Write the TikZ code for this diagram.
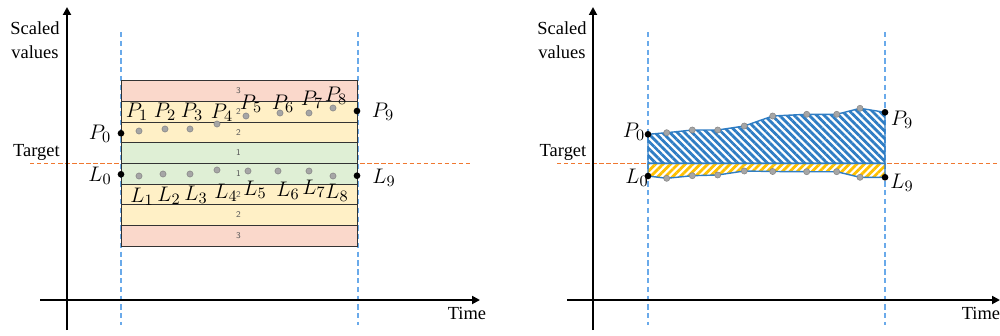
\documentclass[tikz,border=0pt]{standalone}
\usepackage{fontspec}
\setmainfont{Liberation Serif}
\usetikzlibrary{arrows.meta,patterns.meta}
\definecolor{bandred}{HTML}{FAD8CB}
\definecolor{bandyel}{HTML}{FFF0C6}
\definecolor{bandgrn}{HTML}{DFEFD5}
\definecolor{guide}{HTML}{6AAAEA}
\definecolor{targetorange}{HTML}{F07830}
\definecolor{area}{HTML}{2F7DC4}
\definecolor{gold}{HTML}{FFC000}
\definecolor{dotg}{HTML}{A6A6A6}
\tikzset{
  axis/.style={line width=1.1pt,-{Triangle[length=4.5pt,width=4.5pt]}},
  guideline/.style={draw=guide,line width=0.6pt,dash pattern=on 3pt off 2pt},
  tline/.style={draw=targetorange,line width=1pt,dash pattern=on 2.5pt off 1.5pt},
  band/.style={draw=black!80,line width=0.55pt},
  pdot/.style={circle,fill=dotg,draw=dotg!80!black,line width=0.3pt,inner sep=0pt,minimum size=3.5pt},
  edot/.style={circle,fill=black,inner sep=0pt,minimum size=3.8pt},
  lab/.style={font=\fontsize{12.5}{14}\selectfont,inner sep=0pt},
  bnum/.style={font=\sffamily\fontsize{5}{6}\selectfont,text=black!65,inner sep=0pt},
  ttl/.style={font=\fontsize{10.5}{12.5}\selectfont,align=center,inner sep=0pt},
  uparea/.style={draw=area,line width=0.8pt,pattern={Lines[angle=-45,distance=3pt,line width=1.6pt]},pattern color=area},
  lowarea/.style={draw=area,line width=0.8pt,pattern={Lines[angle=45,distance=3pt,line width=1.6pt]},pattern color=gold},
}

\begin{document}
\begin{tikzpicture}[x=0.2mm,y=-0.2mm]
\useasboundingbox (0,0) rectangle (1000,335);
% ---------- left panel
\draw[guideline] (121,32) -- (121,325);
\draw[guideline] (358,32) -- (358,325);
\draw[tline] (30,163.5) -- (472,163.5);
% bands around the target
\foreach \c/\n [count=\i from 0] in {bandred/3,bandyel/2,bandyel/2,bandgrn/1,bandgrn/1,bandyel/2,bandyel/2,bandred/3}{
  \draw[band,fill=\c] (121,80.7+20.66*\i) rectangle ++(236.5,20.66);
  \node[bnum] (num\i) at (238.5,91+20.66*\i) {\n};
}
% axes
\coordinate (ybL) at (67,330);
\coordinate (ytL) at (67,7);
\coordinate (xbL) at (40,300);
\coordinate (xtL) at (480,300);
\draw[axis] (ybL) -- (ytL);
\draw[axis] (xbL) -- (xtL);
\node[ttl] (yl) at (35,40) {Scaled\\[1pt]values};
\node[ttl] (tg) at (36.5,152) {Target};
\node[ttl] (tm) at (467,313) {Time};
% upper points
\node[edot] (p0) at (121,133.3) {};
\node[edot] (p9) at (357,111) {};
\node[lab] (pl0) at (100,134) {$P_0$};
\node[lab] (pl9) at (383,112) {$P_9$};
\foreach \x/\y/\lx/\ly [count=\k] in {139/131/137/112,165/129/165/112,190/129/192/112,217/124/222/113,246/116/251/104,280/113/283/104,309/113/312/100,333/108/336/96}{
  \node[pdot] (p\k) at (\x,\y) {};
  \node[lab] (pl\k) at (\lx,\ly) {$P_{\k}$};
}
% lower points
\node[edot] (l0) at (121,174.3) {};
\node[edot] (l9) at (357,175.7) {};
\node[lab] (ll0) at (100,176) {$L_0$};
\node[lab] (ll9) at (384,178) {$L_9$};
\foreach \x/\y/\lx/\ly [count=\k] in {139/176/142/197,163/174/169/196,190/174/196/195,217/170/226/193,248/171/255/190,278/171/288/191,309/171/314/189,333/176/337/193}{
  \node[pdot] (l\k) at (\x,\y) {};
  \node[lab] (ll\k) at (\lx,\ly) {$L_{\k}$};
}
% ---------- right panel
\draw[guideline] (648,32) -- (648,325);
\draw[guideline] (885,32) -- (885,325);
\draw[tline] (557,163.5) -- (1000,163.5);
\foreach \x/\uy/\ly [count=\k from 0] in {648/134.3/176,666.7/132.7/178.3,692.3/130/175.7,717.7/130/175,744.3/126/171,772.7/116/171.5,806.7/114.3/171.7,836.7/114.3/171.7,860/108.3/177.3,885/112.3/177.3}{
  \coordinate (u\k) at (\x,\uy);
  \coordinate (d\k) at (\x,\ly);
}
\coordinate (t0) at (648,163.3);
\coordinate (t9) at (885,163.3);
\draw[uparea] (u0) -- (u1) -- (u2) -- (u3) -- (u4) -- (u5) -- (u6) -- (u7) -- (u8) -- (u9) -- (t9) -- (t0) -- cycle;
\draw[lowarea] (t0) -- (t9) -- (d9) -- (d8) -- (d7) -- (d6) -- (d5) -- (d4) -- (d3) -- (d2) -- (d1) -- (d0) -- cycle;
\foreach \k in {1,...,8}{
  \node[pdot] (ru\k) at (u\k) {};
  \node[pdot] (rd\k) at (d\k) {};
}
\node[edot] (ru0) at (u0) {};
\node[edot] (ru9) at (u9) {};
\node[edot] (rd0) at (d0) {};
\node[edot] (rd9) at (d9) {};
\node[lab] (rpl0) at (634,132) {$P_0$};
\node[lab] (rpl9) at (902,120) {$P_9$};
\node[lab] (rll0) at (637,178) {$L_0$};
\node[lab] (rll9) at (902,183) {$L_9$};
% axes
\coordinate (ybR) at (593,330);
\coordinate (ytR) at (593,7);
\coordinate (xbR) at (567,300);
\coordinate (xtR) at (1000,300);
\draw[axis] (ybR) -- (ytR);
\draw[axis] (xbR) -- (xtR);
\node[ttl] (ryl) at (562,40) {Scaled\\[1pt]values};
\node[ttl] (rtg) at (563,152) {Target};
\node[ttl] (rtm) at (981,313) {Time};
\end{tikzpicture}
\end{document}
